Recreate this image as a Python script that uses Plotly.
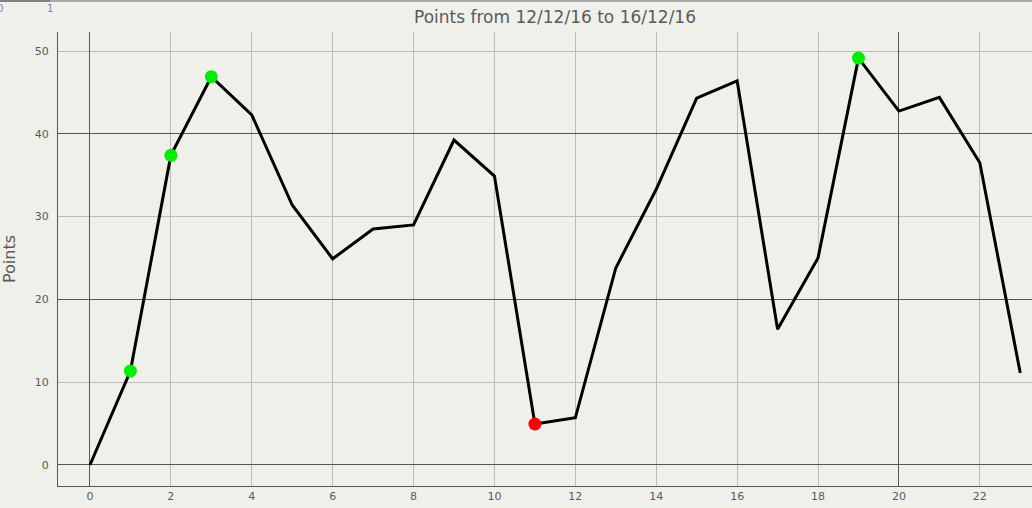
import plotly.graph_objects as go

# ==========================================
# Data
# ==========================================
X_VALUES = list(range(24))
POINTS = [0, 11.35, 37.4, 46.9, 42.3, 31.4, 24.9, 28.5, 29.0, 39.25, 34.9,
          4.95, 5.7, 23.8, 33.3, 44.3, 46.4, 16.4, 25.0, 49.15, 42.75,
          44.4, 36.5, 11.1]
HIGH_IDX = [1, 2, 3, 19]
LOW_IDX = [11]
X_TICKS = list(range(0, 23, 2))
Y_TICKS = [0, 10, 20, 30, 40, 50]
X_MAJOR = [0, 20]
Y_MAJOR = [0, 20, 40]
TITLE = "Points from 12/12/16 to 16/12/16"
Y_TITLE = "Points"

# ==========================================
# Colours
# ==========================================
BG = "#f0f0ea"
COLOR_LINE = "#000000"
COLOR_HIGH = "#00ee00"
COLOR_LOW = "#ff0000"
GRID_MINOR = "#bdbdb8"
GRID_MAJOR = "#555555"
TEXT = "#5a5a5a"

W, H = 1032, 508
ML, MR, MT, MB = 58, 0, 32, 22
X_RANGE = [-0.79, 23.29]
Y_RANGE = [-2.54, 52.3]

fig = go.Figure()

# empty traces so that the overlay grid axes get drawn
fig.add_trace(go.Scatter(x=[], y=[], xaxis="x2", yaxis="y",
                         showlegend=False, hoverinfo="skip"))
fig.add_trace(go.Scatter(x=[], y=[], xaxis="x", yaxis="y2",
                         showlegend=False, hoverinfo="skip"))

# main line
fig.add_trace(
    go.Scatter(
        x=X_VALUES,
        y=POINTS,
        mode="lines",
        line=dict(color=COLOR_LINE, width=3),
        showlegend=False,
        hoverinfo="skip"
    )
)

# high points
fig.add_trace(
    go.Scatter(
        x=[X_VALUES[i] for i in HIGH_IDX],
        y=[POINTS[i] for i in HIGH_IDX],
        mode="markers",
        marker=dict(color=COLOR_HIGH, size=13),
        showlegend=False
    )
)

# low points
fig.add_trace(
    go.Scatter(
        x=[X_VALUES[i] for i in LOW_IDX],
        y=[POINTS[i] for i in LOW_IDX],
        mode="markers",
        marker=dict(color=COLOR_LOW, size=13),
        showlegend=False
    )
)

# strip along the top of the page
pw = W - ML - MR
ph = H - MT - MB
top_y = 1 + (MT - 1) / ph
shapes = [
    dict(type="line", xref="paper", yref="paper",
         x0=-ML / pw, x1=(W - ML) / pw, y0=top_y, y1=top_y,
         line=dict(color="#a8a8a8", width=2)),
    dict(type="line", xref="paper", yref="paper",
         x0=-ML / pw, x1=(50 - ML) / pw, y0=top_y, y1=top_y,
         line=dict(color="#808080", width=2)),
]

annotations = [
    dict(text="0", xref="paper", yref="paper", x=(0 - ML) / pw,
         y=1 + (MT - 9) / ph, showarrow=False, xanchor="center",
         yanchor="middle", font=dict(size=10, color="#8080a0")),
    dict(text="1", xref="paper", yref="paper", x=(50 - ML) / pw,
         y=1 + (MT - 9) / ph, showarrow=False, xanchor="center",
         yanchor="middle", font=dict(size=10, color="#8080a0")),
]

fig.update_layout(
    width=W,
    height=H,
    title=dict(
        text=TITLE,
        x=(555 - ML) / pw,
        xref="paper",
        xanchor="center",
        y=1 - 17 / H,
        yanchor="middle",
        font=dict(family="DejaVu Sans", size=17, color=TEXT)
    ),
    plot_bgcolor=BG,
    paper_bgcolor=BG,
    margin=dict(l=ML, r=MR, t=MT, b=MB),
    shapes=shapes,
    annotations=annotations,
    font=dict(family="DejaVu Sans", color=TEXT),
    xaxis=dict(
        range=X_RANGE,
        tickmode="array",
        tickvals=X_TICKS,
        showgrid=True,
        gridcolor=GRID_MINOR,
        gridwidth=1,
        zeroline=False,
        showline=True,
        linecolor=GRID_MAJOR,
        linewidth=1,
        ticks="",
        tickfont=dict(size=11, color=TEXT)
    ),
    yaxis=dict(
        range=Y_RANGE,
        tickmode="array",
        tickvals=Y_TICKS,
        showgrid=True,
        gridcolor=GRID_MINOR,
        gridwidth=1,
        zeroline=False,
        showline=True,
        linecolor=GRID_MAJOR,
        linewidth=1,
        ticks="",
        ticklabelstandoff=6,
        title=dict(text=Y_TITLE, font=dict(size=16, color=TEXT),
                   standoff=18),
        tickfont=dict(size=11, color=TEXT)
    ),
    # overlay axes: darker grid lines every 20
    xaxis2=dict(
        overlaying="x", anchor="y", range=X_RANGE,
        tickmode="array", tickvals=X_MAJOR, showticklabels=False,
        showgrid=True, gridcolor=GRID_MAJOR, gridwidth=1,
        zeroline=False, showline=False, ticks=""
    ),
    yaxis2=dict(
        overlaying="y", anchor="x", range=Y_RANGE,
        tickmode="array", tickvals=Y_MAJOR, showticklabels=False,
        showgrid=True, gridcolor=GRID_MAJOR, gridwidth=1,
        zeroline=False, showline=False, ticks=""
    )
)

fig.write_html(
    "out.html",
    config={"displayModeBar": False},
    post_script="document.body.style.margin='0';"
                "document.body.style.overflow='hidden';"
)
